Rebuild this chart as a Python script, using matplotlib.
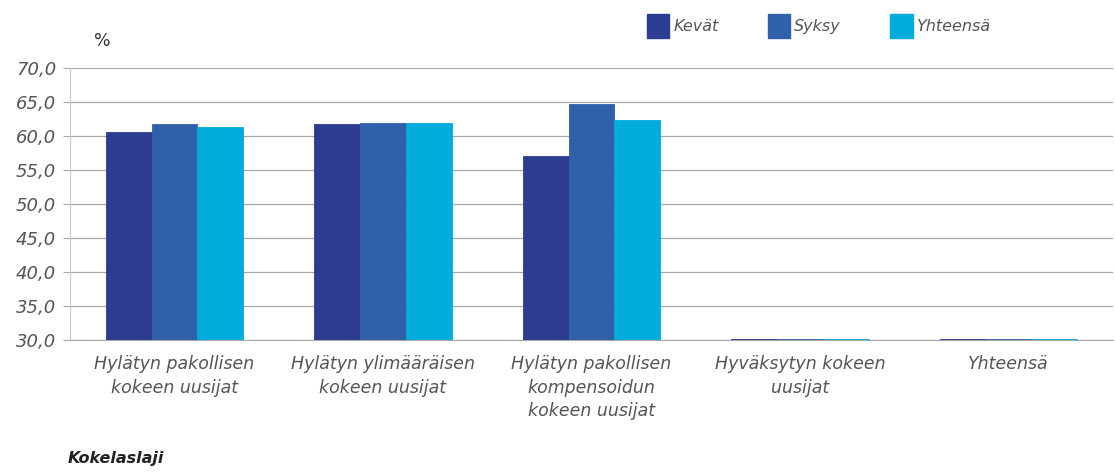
import numpy as np
import matplotlib
matplotlib.use("Agg")
from matplotlib import pyplot as plt
from matplotlib.patches import Patch

categories = ["Hylätyn pakollisen\nkokeen uusijat",
              "Hylätyn ylimääräisen\nkokeen uusijat",
              "Hylätyn pakollisen\nkompensoidun\nkokeen uusijat",
              "Hyväksytyn kokeen\nuusijat",
              "Yhteensä"]
kevat = [60.6, 61.7, 57.0, 30.15, 30.15]
syksy = [61.7, 61.9, 64.7, 30.15, 30.15]
yhteensa = [61.3, 61.9, 62.4, 30.15, 30.15]
series_names = ["Kevät", "Syksy", "Yhteensä"]
colors = ["#2b3c91", "#3160ab", "#00acdc"]
yticks = np.arange(30, 70.1, 5)

plt.rcParams['font.family'] = ['DejaVu Sans']
txt = "#555555"

fig = plt.figure(figsize=(11.15, 4.76), dpi=100)
ax = fig.add_axes([0.063, 0.286, 0.935, 0.571])

x = np.arange(len(categories))
w = 0.22
for i, (vals, c) in enumerate(zip([kevat, syksy, yhteensa], colors)):
    ax.bar(x + (i - 1) * w, np.array(vals) - 30, w, bottom=30, color=c,
           edgecolor=c, linewidth=0.6, zorder=3)

ax.set_xlim(-0.5, len(categories) - 0.5)
ax.set_ylim(30, 70)
ax.set_yticks(yticks)
ax.set_yticklabels([f"{v:.1f}".replace(".", ",") for v in yticks],
                   fontsize=13, style="italic", color=txt)
ax.yaxis.grid(True, color="#a8a8a8", linewidth=0.9, zorder=0)
ax.tick_params(axis="y", length=5, color="#a8a8a8", pad=5)
ax.set_xticks(x)
ax.set_xticklabels(categories, fontsize=12.5, style="italic", color=txt,
                   linespacing=1.4)
ax.tick_params(axis="x", length=0, pad=11)
for s in ["top", "right"]:
    ax.spines[s].set_visible(False)
ax.spines["left"].set_color("#c8c8c8")
ax.spines["bottom"].set_color("#a8a8a8")

fig.text(0.084, 0.895, "%", fontsize=12.5, color="#333333", ha="left", va="bottom")
fig.text(0.061, 0.02, "Kokelaslaji", fontsize=11.5, style="italic",
         weight="bold", color="#222222", ha="left", va="bottom")

handles = [Patch(facecolor=c, edgecolor=c) for c in colors]
leg = fig.legend(handles, series_names, loc="center left",
                 bbox_to_anchor=(0.570, 0.945), ncol=3, frameon=False,
                 handlelength=1.4, handleheight=1.9, handletextpad=0.25,
                 columnspacing=3.1, borderpad=0.2,
                 prop={"style": "italic", "size": 11.5})
for t in leg.get_texts():
    t.set_color(txt)

fig.savefig("out.png", dpi=100)
